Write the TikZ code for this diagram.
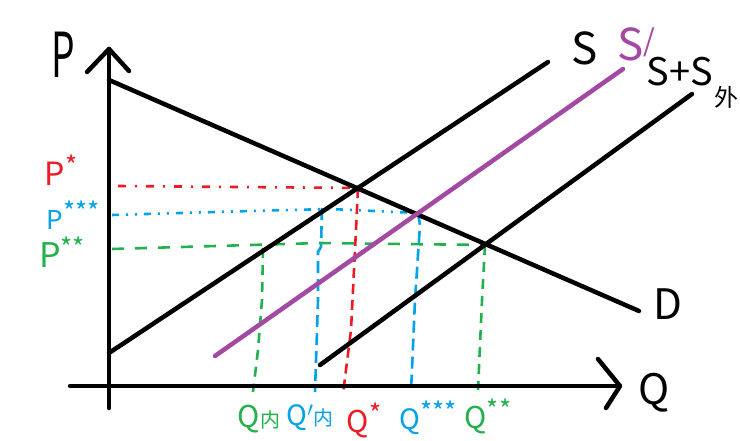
\documentclass[tikz,border=0pt]{standalone}
\usepackage{fontspec}
\setmainfont{Noto Sans CJK SC}
\definecolor{pred}{RGB}{237,28,36}
\definecolor{pblue}{RGB}{0,162,232}
\definecolor{pgreen}{RGB}{34,177,76}
\definecolor{ppurple}{RGB}{163,73,164}
\newcommand{\st}[1]{\raisebox{0.3em}{\fontsize{26}{26}\selectfont #1}}
\begin{document}
\begin{tikzpicture}[x=1pt,y=-1pt,
  axisline/.style={line width=4.5pt, line cap=round, line join=round},
  curveline/.style={line width=4.5pt, line cap=round},
  reddash/.style={pred, line width=2.6pt, dash pattern=on 8pt off 9pt on 2pt off 9pt},
  bluedash/.style={pblue, line width=2.6pt, dash pattern=on 7pt off 7pt on 2pt off 7pt on 2pt off 7pt},
  greendash/.style={pgreen, line width=2.6pt, dash pattern=on 12pt off 11pt},
  vred/.style={pred, line width=2.6pt, dash pattern=on 10pt off 6pt},
  vblue/.style={pblue, line width=2.6pt, dash pattern=on 12pt off 6pt},
  vgreen/.style={pgreen, line width=2.6pt, dash pattern=on 10pt off 7pt},
  lab/.style={inner sep=0pt, anchor=center}]
\useasboundingbox (0,0) rectangle (740,441);
\fill[white] (0,0) rectangle (740,441);
% coordinates
\coordinate (ybot) at (109,408);
\coordinate (ytop) at (109,49);
\coordinate (xleft) at (70,386);
\coordinate (xright) at (620,386);
\coordinate (A) at (358,188);
\coordinate (B) at (418,213);
\coordinate (C) at (485,245);
% guide lines (dashed)
\draw[reddash] (118,186) -- (A);
\draw[vred] (A) -- (355,250) -- (351,330) -- (343,394);
\draw[bluedash] (112,215) -- (250,211) -- (330,209) -- (B);
\draw[vblue] (322,208) -- (321,247) -- (318,252) -- (318,300) -- (315,392);
\draw[vblue] (B) -- (420,225) -- (415,300) -- (411,392);
\draw[greendash] (112,249) -- (320,243) -- (C);
\draw[vgreen] (263,248) -- (262,300) -- (258,350) -- (253,392);
\draw[vgreen] (C) -- (482,300) -- (478,390);
% axes
\draw[axisline] (ybot) -- (ytop);
\draw[axisline] (87,72) -- (ytop) -- (129,71);
\draw[axisline] (xleft) -- (xright);
\draw[axisline] (598,359) -- (xright) -- (606,408);
% curves
\coordinate (D1) at (109,80);  \coordinate (D2) at (639,311);
\coordinate (S1) at (109,353); \coordinate (S2) at (548,62);
\coordinate (T1) at (215,356); \coordinate (T2) at (623,69);
\coordinate (U1) at (320,365); \coordinate (U2) at (692,94);
\draw[curveline] (D1) -- (D2);
\draw[curveline] (S1) -- (S2);
\draw[curveline, ppurple] (T1) -- (T2);
\draw[curveline] (U1) -- (U2);
% labels
\node[lab] (lP) at (63,55) {\scalebox{0.6}[1]{\fontsize{62}{62}\selectfont P}};
\node[lab] (lS) at (585,48) {\fontsize{44}{44}\selectfont S};
\node[lab, ppurple] (lSp) at (636,44) {\fontsize{44}{44}\selectfont S\raisebox{0.2em}{\fontsize{30}{30}\selectfont /}};
\node[lab] (lSS) at (680,72) {\fontsize{38}{38}\selectfont S+S};
\node[lab] (lwai) at (726,97) {\fontsize{24}{24}\selectfont 外};
\node[lab] (lD) at (668,304) {\fontsize{42}{42}\selectfont D};
\node[lab] (lQ) at (654,393) {\fontsize{42}{42}\selectfont Q};
\node[lab, pred] (lP1) at (61,170) {\fontsize{32}{32}\selectfont P\st{*}};
\node[lab, pblue] (lP3) at (73,215) {\fontsize{26}{26}\selectfont P\st{***}};
\node[lab, pgreen] (lP2) at (62,252) {\fontsize{34}{34}\selectfont P\st{**}};
\node[lab, pgreen] (lQn) at (259,419) {\fontsize{30}{30}\selectfont Q\fontsize{20}{20}\selectfont 内};
\node[lab, pblue] (lQn2) at (310,418) {\fontsize{28}{28}\selectfont Q$'$\fontsize{20}{20}\selectfont 内};
\node[lab, pred] (lQ1) at (364,420) {\fontsize{30}{30}\selectfont Q\st{*}};
\node[lab, pblue] (lQ3) at (428,418) {\fontsize{28}{28}\selectfont Q\st{***}};
\node[lab, pgreen] (lQ2) at (488,416) {\fontsize{30}{30}\selectfont Q\st{**}};
\end{tikzpicture}
\end{document}
